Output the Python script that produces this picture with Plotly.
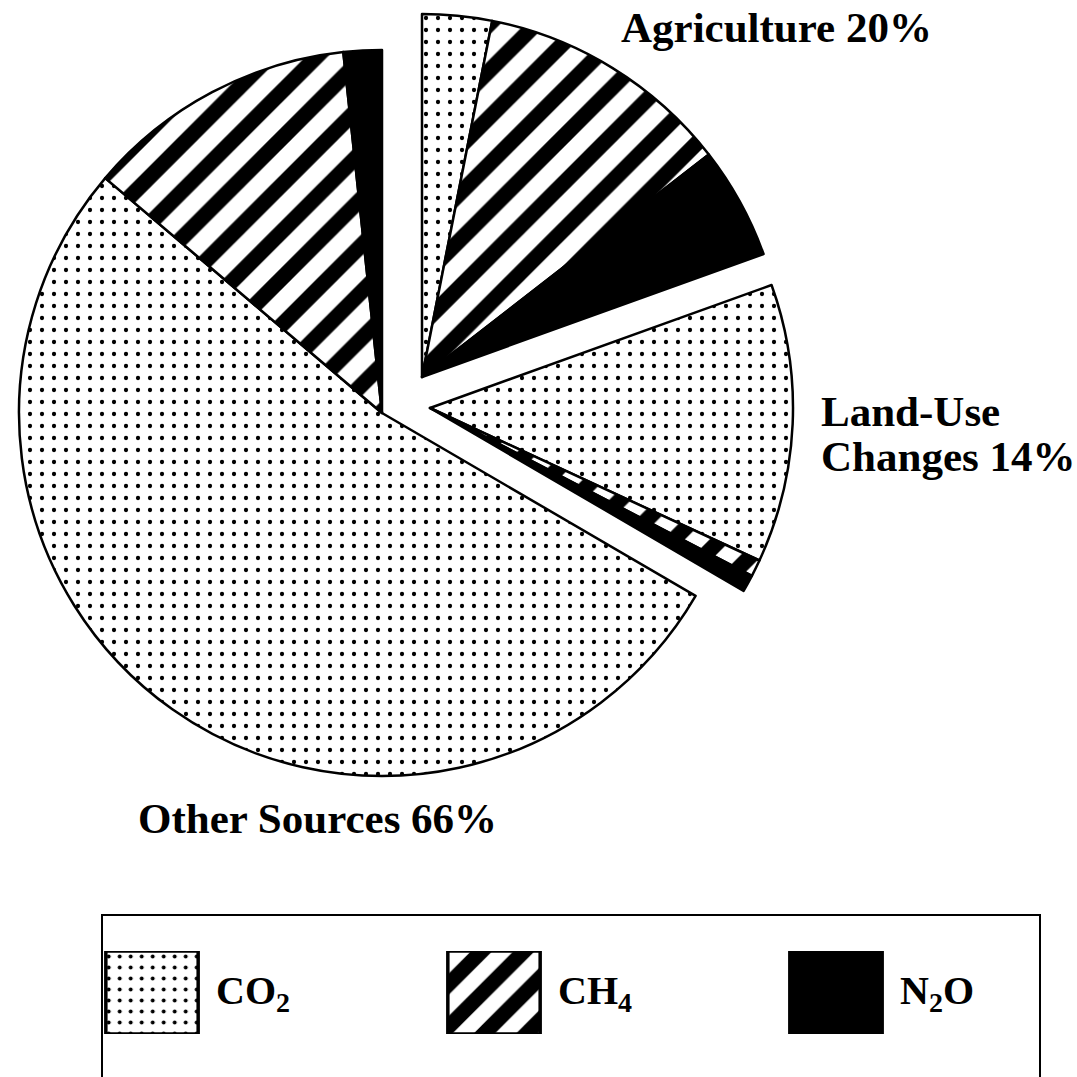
import plotly.graph_objects as go

# ---------------- data ----------------
groups = ["Agriculture", "Land-Use Changes", "Other Sources"]
group_totals = [20, 14, 66]
gases = ["CO2", "CH4", "N2O"]
gas_labels = ["CO<sub>2</sub>", "CH<sub>4</sub>", "N<sub>2</sub>O"]
agriculture = [3.1, 11.4, 5.0]
land_use = [12.4, 0.75, 0.75]
other_sources = [52.8, 12.1, 1.7]
group_values = [agriculture, land_use, other_sources]
legend_swatch = [1, 1, 1]

# ---------------- layout / style ----------------
W = H = 1077
R = 363
centres = {"Agriculture": (422, 377), "Land-Use Changes": (430, 408), "Other Sources": (382, 413)}
gas_style = {
    "CO2": dict(color="white", shape=".", size=12, solidity=0.1),
    "CH4": dict(color="white", shape="/", size=33, solidity=0.47),
    "N2O": dict(color="black", shape="", size=10, solidity=0.3),
}
FONT = dict(family="Liberation Serif", size=43, color="black")
LFONT = dict(family="Liberation Serif", size=40, color="black")

labels, values, owner = [], [], []
for g, vals in zip(groups, group_values):
    for gas, v in zip(gases, vals):
        labels.append(f"{g} {gas}")
        values.append(v)
        owner.append((g, gas))

fig = go.Figure()
for g in ["Other Sources", "Agriculture", "Land-Use Changes"]:
    cx, cy = centres[g]
    colors, shapes, sizes, sols, widths = [], [], [], [], []
    for og, gas in owner:
        st = gas_style[gas]
        if og == g:
            colors.append(st["color"]); shapes.append(st["shape"])
            sizes.append(st["size"]); sols.append(st["solidity"]); widths.append(2.5)
        else:
            colors.append("rgba(0,0,0,0)"); shapes.append("")
            sizes.append(10); sols.append(0.3); widths.append(0)
    fig.add_trace(go.Pie(
        labels=labels, values=values, sort=False, direction="clockwise", rotation=0,
        textinfo="none", hoverinfo="skip", showlegend=False,
        marker=dict(colors=colors, line=dict(color="black", width=widths),
                    pattern=dict(shape=shapes, fgcolor="black", bgcolor="white", fgopacity=1,
                                 size=sizes, solidity=sols)),
        domain=dict(x=[(cx - R) / W, (cx + R) / W], y=[1 - (cy + R) / H, 1 - (cy - R) / H]),
    ))

# legend swatches as a bar trace on a hidden axis
fig.add_trace(go.Bar(
    x=gases, y=legend_swatch, width=0.27, hoverinfo="skip", showlegend=False,
    marker=dict(color="black", opacity=1,
                line=dict(color="black", width=3.5),
                pattern=dict(shape=[gas_style[g]["shape"] for g in gases],
                             bgcolor="white", fgopacity=1, fillmode="replace",
                             size=[11, 30, 10],
                             solidity=[0.1, 0.5, 0.3])),
))

annotations = []
for i, lab in enumerate(gas_labels):
    annotations.append(dict(x=i + 0.18, y=0.5, xref="x", yref="y", text=f"<b>{lab}</b>",
                            showarrow=False, xanchor="left", yanchor="middle", font=LFONT))

label_pos = [(619, 28, f"<b>{groups[0]} {group_totals[0]}%</b>"),
             (819, 411, "<b>Land-Use</b>"),
             (819, 456, f"<b>Changes {group_totals[1]}%</b>"),
             (136, 818, f"<b>{groups[2]} {group_totals[2]}%</b>")]
for px, py, t in label_pos:
    annotations.append(dict(x=px / W, y=1 - py / H, xref="paper", yref="paper", text=t,
                            showarrow=False, xanchor="left", yanchor="middle", font=FONT))

fig.update_layout(
    width=W, height=H, margin=dict(l=0, r=0, t=0, b=0),
    paper_bgcolor="white", plot_bgcolor="rgba(0,0,0,0)", showlegend=False,
    xaxis=dict(domain=[15.2 / W, 972.8 / W], range=[-0.4, 2.4], visible=False, fixedrange=True),
    yaxis=dict(domain=[1 - 1034 / H, 1 - 951 / H], range=[0, 1], visible=False, fixedrange=True),
    annotations=annotations,
    shapes=[dict(type="rect", xref="paper", yref="paper", x0=102 / W, x1=1040 / W,
                 y0=-0.2, y1=1 - 915 / H, line=dict(color="black", width=2), fillcolor="rgba(0,0,0,0)")],
)

fig.write_html("out.html", config={"displayModeBar": False},
               post_script="document.body.style.margin='0';")
